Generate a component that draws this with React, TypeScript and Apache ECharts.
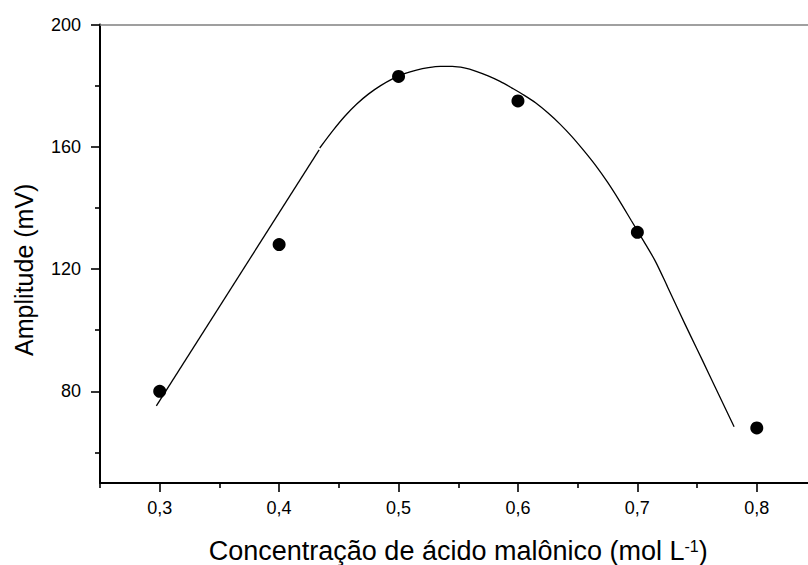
import React, { useEffect, useRef } from "react";
import * as echarts from "echarts";

// Measured points
const concentrations = [0.3, 0.4, 0.5, 0.6, 0.7, 0.8];
const amplitudes = [80, 128, 183, 175, 132, 68];

// Fitted curve as drawn in the reference
const fitLineX = [0.2972, 0.4335];
const fitLineY = [75.2, 159.0];
const fitCurveX = [
  0.434, 0.445, 0.455, 0.465, 0.475, 0.485, 0.495, 0.505, 0.515, 0.525,
  0.535, 0.545, 0.555, 0.565, 0.575, 0.585, 0.595, 0.605, 0.615, 0.625,
  0.635, 0.645, 0.655, 0.665, 0.675, 0.685, 0.695, 0.705, 0.715, 0.725,
  0.735, 0.745, 0.755, 0.765, 0.775, 0.781,
];
const fitCurveY = [
  159.6, 165.3, 170.0, 174.0, 177.3, 180.0, 182.2, 183.9, 185.1, 185.9,
  186.3, 186.3, 185.8, 184.7, 183.2, 181.4, 179.2, 176.9, 174.3, 171.1,
  167.5, 163.4, 158.8, 153.9, 148.4, 142.3, 135.8, 129.3, 122.6, 114.4,
  106.0, 97.8, 89.7, 81.5, 73.3, 68.4,
];

// Axis ticks
const xMajorTicks = [0.3, 0.4, 0.5, 0.6, 0.7, 0.8];
const xMinorTicks = [0.25, 0.35, 0.45, 0.55, 0.65, 0.75, 0.85];
const yMajorTicks = [80, 120, 160, 200];
const yMinorTicks = [60, 100, 140, 180];
const xRange = [0.25, 0.85];
const yRange = [50, 200];

const FONT = "'Liberation Sans', Arial, Helvetica, sans-serif";

export default function App() {
  const ref = useRef<HTMLDivElement>(null);

  useEffect(() => {
    if (!ref.current) return;
    const chart = echarts.init(ref.current, null, { renderer: "svg" });

    const hidden = { show: false };
    const option: any = {
      animation: false,
      backgroundColor: "#ffffff",
      textStyle: { fontFamily: FONT, color: "#000" },
      grid: {
        left: 100,
        top: 24.5,
        right: -8.5,
        bottom: 82,
        containLabel: false,
        outerBoundsMode: "none",
      },
      xAxis: [
        {
          type: "value",
          position: "bottom",
          min: xRange[0],
          max: xRange[1],
          axisLine: { show: true, lineStyle: { color: "#000", width: 2 } },
          axisTick: {
            show: true,
            customValues: xMajorTicks,
            length: 9,
            inside: false,
            lineStyle: { color: "#000", width: 1.6 },
          },
          axisLabel: {
            show: true,
            customValues: xMajorTicks,
            margin: 16,
            fontSize: 18,
            fontFamily: FONT,
            color: "#000",
            formatter: (v: number) => v.toFixed(1).replace(".", ","),
          },
          splitLine: hidden,
          name: "{a|Concentração de ácido malônico (mol L}{s|-1}{a|)}",
          nameLocation: "middle",
          nameGap: 55,
          nameTextStyle: {
            fontFamily: FONT,
            color: "#000",
            rich: {
              a: { fontSize: 27, fontFamily: FONT, color: "#000", lineHeight: 25 },
              s: { fontSize: 16, fontFamily: FONT, color: "#000", verticalAlign: "top", lineHeight: 14 },
            },
          },
        },
        {
          type: "value",
          position: "bottom",
          min: xRange[0],
          max: xRange[1],
          axisLine: hidden,
          axisTick: {
            show: true,
            customValues: xMinorTicks,
            length: 5,
            inside: false,
            lineStyle: { color: "#000", width: 1.6 },
          },
          axisLabel: hidden,
          splitLine: hidden,
        },
        {
          type: "value",
          position: "top",
          min: xRange[0],
          max: xRange[1],
          axisLine: { show: true, lineStyle: { color: "#808080", width: 1.5 } },
          axisTick: hidden,
          axisLabel: hidden,
          splitLine: hidden,
        },
      ],
      yAxis: [
        {
          type: "value",
          position: "left",
          min: yRange[0],
          max: yRange[1],
          axisLine: { show: true, lineStyle: { color: "#000", width: 2 } },
          axisTick: {
            show: true,
            customValues: yMajorTicks,
            length: 9,
            inside: false,
            lineStyle: { color: "#000", width: 1.6 },
          },
          axisLabel: {
            show: true,
            customValues: yMajorTicks,
            margin: 19,
            fontSize: 18,
            fontFamily: FONT,
            color: "#000",
          },
          splitLine: hidden,
          name: "Amplitude (mV)",
          nameLocation: "middle",
          nameGap: 64,
          nameTextStyle: {
            fontSize: 25,
            fontFamily: FONT,
            color: "#000",
            padding: [0, 32, 0, 0],
          },
        },
        {
          type: "value",
          position: "left",
          min: yRange[0],
          max: yRange[1],
          axisLine: hidden,
          axisTick: {
            show: true,
            customValues: yMinorTicks,
            length: 5,
            inside: false,
            lineStyle: { color: "#000", width: 1.6 },
          },
          axisLabel: hidden,
          splitLine: hidden,
        },
      ],
      series: [
        {
          type: "line",
          xAxisIndex: 0,
          yAxisIndex: 0,
          data: fitLineX.map((x, i) => [x, fitLineY[i]]),
          showSymbol: false,
          symbol: "none",
          lineStyle: { color: "#000", width: 1.3 },
        },
        {
          type: "line",
          xAxisIndex: 0,
          yAxisIndex: 0,
          data: fitCurveX.map((x, i) => [x, fitCurveY[i]]),
          showSymbol: false,
          symbol: "none",
          smooth: 0.3,
          lineStyle: { color: "#000", width: 1.3 },
        },
        {
          type: "scatter",
          xAxisIndex: 0,
          yAxisIndex: 0,
          data: concentrations.map((x, i) => [x, amplitudes[i]]),
          symbol: "circle",
          symbolSize: 13,
          itemStyle: { color: "#000", opacity: 1 },
        },
      ],
    };

    chart.setOption(option);
    return () => {
      chart.dispose();
    };
  }, []);

  return (
    <div
      ref={ref}
      style={{ position: "absolute", left: 0, top: 0, width: 808, height: 565 }}
    />
  );
}
